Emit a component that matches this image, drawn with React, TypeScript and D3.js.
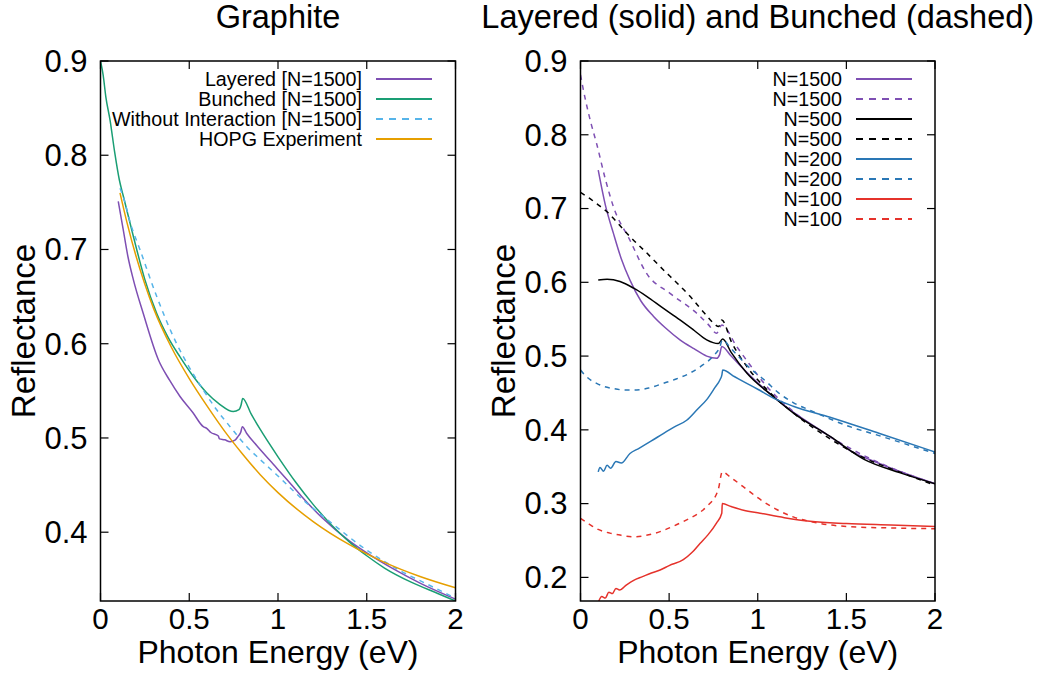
import React from "react";
import * as d3 from "d3";

type Pt = [number, number];

const xTicks = [0, 0.5, 1, 1.5, 2];
const xTickLabels = ["0", "0.5", "1", "1.5", "2"];
const leftYTicks = [0.4, 0.5, 0.6, 0.7, 0.8, 0.9];
const rightYTicks = [0.2, 0.3, 0.4, 0.5, 0.6, 0.7, 0.8, 0.9];

// ---------------- Left panel: Graphite ----------------
const layered1500: Pt[] = [
  [0.1, 0.751], [0.128, 0.721], [0.155, 0.692], [0.185, 0.668], [0.241, 0.632],
  [0.326, 0.583], [0.39, 0.561], [0.448, 0.544], [0.52, 0.527], [0.579, 0.512],
  [0.6, 0.51], [0.62, 0.506], [0.664, 0.502], [0.67, 0.499], [0.7, 0.498], [0.73, 0.496],
  [0.76, 0.498], [0.776, 0.502], [0.79, 0.506], [0.799, 0.512], [0.823, 0.505],
  [0.88, 0.492], [0.955, 0.476], [1.05, 0.456], [1.133, 0.438], [1.25, 0.415],
  [1.4, 0.391], [1.5, 0.378], [1.65, 0.361], [1.8, 0.346], [2.0, 0.329],
];
const bunched1500: Pt[] = [
  [0, 0.9], [0.015, 0.885], [0.03, 0.862], [0.054, 0.837], [0.08, 0.803],
  [0.106, 0.774], [0.128, 0.757], [0.185, 0.714], [0.25, 0.668], [0.317, 0.632],
  [0.38, 0.607], [0.448, 0.586], [0.52, 0.566], [0.598, 0.548], [0.67, 0.536],
  [0.748, 0.528], [0.78, 0.53], [0.792, 0.535], [0.801, 0.542], [0.85, 0.525],
  [0.9, 0.509], [1.0, 0.48], [1.1, 0.453], [1.2, 0.429], [1.3, 0.408],
  [1.4, 0.39], [1.5, 0.375], [1.6, 0.362], [1.75, 0.347], [1.9, 0.335], [2.0, 0.327],
];
const noInteraction1500: Pt[] = [
  [0.11, 0.765], [0.128, 0.756], [0.17, 0.727], [0.222, 0.7], [0.317, 0.65],
  [0.429, 0.6], [0.5, 0.575], [0.579, 0.551], [0.65, 0.531], [0.73, 0.512],
  [0.823, 0.491], [0.9, 0.477], [0.992, 0.461], [1.143, 0.434], [1.3, 0.41],
  [1.5, 0.381], [1.7, 0.358], [1.85, 0.344], [2.0, 0.33],
];
const hopg: Pt[] = [
  [0.11, 0.76], [0.15, 0.728], [0.2, 0.693], [0.25, 0.663], [0.3, 0.637],
  [0.4, 0.596], [0.5, 0.563], [0.6, 0.534], [0.7, 0.507], [0.8, 0.483],
  [0.9, 0.461], [1.0, 0.442], [1.2, 0.411], [1.4, 0.387], [1.6, 0.368],
  [1.8, 0.353], [2.0, 0.341],
];

// ---------------- Right panel: Layered vs Bunched ----------------
const layeredN1500: Pt[] = [
  [0.1, 0.752], [0.14, 0.705], [0.185, 0.667], [0.23, 0.632], [0.279, 0.603],
  [0.34, 0.575], [0.411, 0.554], [0.48, 0.538], [0.561, 0.522], [0.64, 0.51],
  [0.712, 0.5], [0.768, 0.497], [0.785, 0.502], [0.797, 0.513], [0.85, 0.5],
  [0.938, 0.478], [1.088, 0.445], [1.2, 0.424], [1.408, 0.391], [1.5, 0.375],
  [1.7, 0.353], [2.0, 0.327],
];
const bunchedN1500: Pt[] = [
  [0, 0.881], [0.03, 0.845], [0.06, 0.815], [0.091, 0.788], [0.14, 0.74],
  [0.185, 0.703], [0.279, 0.657], [0.373, 0.612], [0.505, 0.585], [0.656, 0.558],
  [0.72, 0.543], [0.768, 0.531], [0.797, 0.542], [0.881, 0.513], [0.95, 0.49],
  [1.05, 0.459], [1.2, 0.425], [1.4, 0.392], [1.6, 0.365], [1.8, 0.344], [2.0, 0.327],
];
const layeredN500: Pt[] = [
  [0.1, 0.603], [0.15, 0.604], [0.223, 0.601], [0.3, 0.592], [0.373, 0.581],
  [0.46, 0.566], [0.561, 0.549], [0.64, 0.535], [0.712, 0.522], [0.777, 0.517],
  [0.802, 0.523], [0.85, 0.505], [0.938, 0.477], [1.088, 0.445], [1.2, 0.423],
  [1.408, 0.391], [1.6, 0.36], [1.8, 0.342], [2.0, 0.327],
];
const bunchedN500: Pt[] = [
  [0, 0.722], [0.05, 0.714], [0.1, 0.705], [0.148, 0.696], [0.2, 0.683],
  [0.279, 0.662], [0.373, 0.64], [0.467, 0.617], [0.54, 0.6], [0.618, 0.581],
  [0.7, 0.558], [0.749, 0.545], [0.78, 0.54], [0.797, 0.549], [0.85, 0.52],
  [0.938, 0.486], [1.05, 0.455], [1.2, 0.423], [1.4, 0.389], [1.6, 0.362],
  [1.8, 0.343], [2.0, 0.325],
];
const layeredN200: Pt[] = [
  [0.1, 0.343], [0.11, 0.349], [0.13, 0.344], [0.15, 0.352], [0.17, 0.348],
  [0.2, 0.357], [0.23, 0.355], [0.279, 0.368], [0.33, 0.375], [0.4, 0.385],
  [0.467, 0.395], [0.53, 0.404], [0.599, 0.413], [0.66, 0.428], [0.712, 0.441],
  [0.76, 0.458], [0.787, 0.468], [0.798, 0.475], [0.802, 0.481], [0.87, 0.472],
  [0.938, 0.463], [1.0, 0.455], [1.107, 0.441], [1.2, 0.432], [1.408, 0.417],
  [1.5, 0.41], [1.7, 0.394], [2.0, 0.37],
];
const bunchedN200: Pt[] = [
  [0, 0.481], [0.03, 0.473], [0.06, 0.467], [0.091, 0.463], [0.13, 0.459],
  [0.185, 0.456], [0.25, 0.454], [0.317, 0.454], [0.39, 0.457], [0.467, 0.463],
  [0.54, 0.469], [0.618, 0.477], [0.69, 0.488], [0.749, 0.5], [0.787, 0.513],
  [0.8, 0.522], [0.85, 0.51], [0.95, 0.485], [1.05, 0.465], [1.108, 0.452],
  [1.2, 0.437], [1.3, 0.426], [1.5, 0.406], [1.7, 0.391], [2.0, 0.368],
];
const layeredN100: Pt[] = [
  [0.1, 0.166], [0.12, 0.174], [0.14, 0.172], [0.16, 0.18], [0.18, 0.178],
  [0.2, 0.185], [0.22, 0.183], [0.26, 0.19], [0.3, 0.196], [0.35, 0.201],
  [0.4, 0.206], [0.449, 0.21], [0.5, 0.216], [0.58, 0.224], [0.63, 0.234],
  [0.674, 0.246], [0.72, 0.258], [0.768, 0.274], [0.797, 0.287], [0.8, 0.3],
  [0.85, 0.296], [0.92, 0.291], [1.013, 0.287], [1.15, 0.281], [1.295, 0.276],
  [1.5, 0.273], [1.75, 0.271], [2.0, 0.269],
];
const bunchedN100: Pt[] = [
  [0, 0.28], [0.05, 0.272], [0.1, 0.265], [0.166, 0.26], [0.23, 0.257],
  [0.298, 0.255], [0.37, 0.257], [0.449, 0.262], [0.52, 0.269], [0.599, 0.278],
  [0.66, 0.286], [0.712, 0.296], [0.777, 0.319], [0.8, 0.343], [0.85, 0.335],
  [0.918, 0.323], [1.0, 0.308], [1.107, 0.292], [1.2, 0.282], [1.333, 0.274],
  [1.5, 0.269], [1.75, 0.267], [2.0, 0.266],
];

const PURPLE = "#7e4fb3";
const GREEN = "#1a9e74";
const SKY = "#56b4e9";
const ORANGE = "#e69f00";
const BLUE = "#2a77b5";
const RED = "#e5322b";
const BLACK = "#000000";

const FONT = "'Liberation Sans', Arial, Helvetica, sans-serif";
const TOP = 61;
const BOTTOM = 601;
const DASH = "7,6";

interface Series {
  label: string;
  data: Pt[];
  color: string;
  dashed: boolean;
}

interface PanelProps {
  id: string;
  left: number;
  right: number;
  yMin: number;
  yTicks: number[];
  title: string;
  series: Series[];
  legendTextX: number;
  legendLine: [number, number];
}

function Panel(p: PanelProps) {
  const x = d3.scaleLinear().domain([0, 2]).range([p.left, p.right]);
  const y = d3.scaleLinear().domain([p.yMin, 0.9]).range([BOTTOM, TOP]);
  const line = d3
    .line<Pt>()
    .x((d) => x(d[0]))
    .y((d) => y(d[1]))
    .curve(d3.curveMonotoneX);
  const cx = (p.left + p.right) / 2;
  const cy = (TOP + BOTTOM) / 2;
  const tl = 8;
  return (
    <g>
      <defs>
        <clipPath id={p.id}>
          <rect x={p.left} y={TOP} width={p.right - p.left} height={BOTTOM - TOP} />
        </clipPath>
      </defs>
      <text x={cx} y={28} textAnchor="middle" fontSize={32.5} fontFamily={FONT} fill="#000">
        {p.title}
      </text>
      {p.yTicks.map((t) => (
        <g key={"y" + t}>
          <line x1={p.left} x2={p.left + tl} y1={y(t)} y2={y(t)} stroke="#000" strokeWidth={1.2} />
          <line x1={p.right} x2={p.right - tl} y1={y(t)} y2={y(t)} stroke="#000" strokeWidth={1.2} />
          <text x={p.left - 13} y={y(t)} dy="0.35em" textAnchor="end" fontSize={31} fontFamily={FONT} fill="#000">
            {t.toFixed(1)}
          </text>
        </g>
      ))}
      {xTicks.map((t, i) => (
        <g key={"x" + t}>
          <line x1={x(t)} x2={x(t)} y1={BOTTOM} y2={BOTTOM - tl} stroke="#000" strokeWidth={1.2} />
          <line x1={x(t)} x2={x(t)} y1={TOP} y2={TOP + tl} stroke="#000" strokeWidth={1.2} />
          <text x={x(t)} y={629} textAnchor="middle" fontSize={29.5} fontFamily={FONT} fill="#000">
            {xTickLabels[i]}
          </text>
        </g>
      ))}
      <text x={cx} y={663} textAnchor="middle" fontSize={32} fontFamily={FONT} fill="#000">
        Photon Energy (eV)
      </text>
      <text
        transform={`translate(${p.left - 66},${cy}) rotate(-90)`}
        textAnchor="middle"
        fontSize={33}
        fontFamily={FONT}
        fill="#000"
      >
        Reflectance
      </text>
      <g clipPath={`url(#${p.id})`}>
        {p.series.map((s, i) => (
          <path
            key={"c" + i}
            d={line(s.data) || ""}
            fill="none"
            stroke={s.color}
            strokeWidth={1.5}
            strokeDasharray={s.dashed ? "5,5" : undefined}
            strokeLinejoin="round"
          />
        ))}
      </g>
      {p.series.map((s, i) => {
        const ly = 79 + i * 20;
        return (
          <g key={"l" + i}>
            <text x={p.legendTextX} y={ly} dy="0.36em" textAnchor="end" fontSize={19.7} fontFamily={FONT} fill="#000">
              {s.label}
            </text>
            <line
              x1={p.legendLine[0]}
              x2={p.legendLine[1]}
              y1={ly}
              y2={ly}
              stroke={s.color}
              strokeWidth={1.8}
              strokeDasharray={s.dashed ? DASH : undefined}
            />
          </g>
        );
      })}
      <rect
        x={p.left}
        y={TOP}
        width={p.right - p.left}
        height={BOTTOM - TOP}
        fill="none"
        stroke="#000"
        strokeWidth={1.5}
      />
    </g>
  );
}

const leftSeries: Series[] = [
  { label: "Layered [N=1500]", data: layered1500, color: PURPLE, dashed: false },
  { label: "Bunched [N=1500]", data: bunched1500, color: GREEN, dashed: false },
  { label: "Without Interaction [N=1500]", data: noInteraction1500, color: SKY, dashed: true },
  { label: "HOPG Experiment", data: hopg, color: ORANGE, dashed: false },
];

const rightSeries: Series[] = [
  { label: "N=1500", data: layeredN1500, color: PURPLE, dashed: false },
  { label: "N=1500", data: bunchedN1500, color: PURPLE, dashed: true },
  { label: "N=500", data: layeredN500, color: BLACK, dashed: false },
  { label: "N=500", data: bunchedN500, color: BLACK, dashed: true },
  { label: "N=200", data: layeredN200, color: BLUE, dashed: false },
  { label: "N=200", data: bunchedN200, color: BLUE, dashed: true },
  { label: "N=100", data: layeredN100, color: RED, dashed: false },
  { label: "N=100", data: bunchedN100, color: RED, dashed: true },
];

export default function App() {
  return (
    <svg
      width={1043}
      height={673}
      viewBox="0 0 1043 673"
      style={{ position: "absolute", left: 0, top: 0, background: "#fff" }}
    >
      <rect x={0} y={0} width={1043} height={673} fill="#fff" />
      <Panel
        id="clipL"
        left={100.5}
        right={455.5}
        yMin={0.327}
        yTicks={leftYTicks}
        title="Graphite"
        series={leftSeries}
        legendTextX={362}
        legendLine={[376, 432]}
      />
      <Panel
        id="clipR"
        left={580.5}
        right={935}
        yMin={0.168}
        yTicks={rightYTicks}
        title="Layered (solid) and Bunched (dashed)"
        series={rightSeries}
        legendTextX={842}
        legendLine={[856, 912]}
      />
    </svg>
  );
}
